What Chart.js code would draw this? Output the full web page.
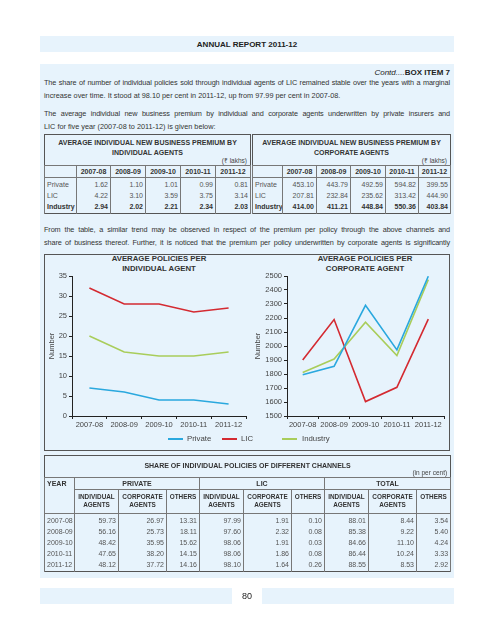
<!DOCTYPE html>
<html><head><meta charset="utf-8">
<script src="https://cdn.jsdelivr.net/npm/chart.js@4.4.1/dist/chart.umd.min.js"></script>
<style>
*{margin:0;padding:0;box-sizing:border-box}
body{width:494px;height:640px;background:#fff;font-family:'Liberation Sans',Arial,sans-serif;color:#333;position:relative;overflow:hidden}
.abs{position:absolute}
.band{background:#e7f3fc}
.ln{position:absolute;left:44px;width:406px;font-size:7.3px;line-height:9px;white-space:nowrap;color:#333}
.j{text-align:justify;text-align-last:justify;letter-spacing:-0.12px}
table{position:absolute;border-collapse:collapse;table-layout:fixed;border:1px solid #555;font-size:7px;color:#555}
td{padding:0 2px;border-left:1px solid #777;border-right:1px solid #777;text-align:right;height:11px;line-height:11px;white-space:nowrap;overflow:hidden}
td.l{text-align:left}
tr.ttl td{border:none;text-align:center;font-weight:bold;color:#333;vertical-align:top;position:relative}
tr.hd td{border:1px solid #777;font-weight:bold;text-align:center;color:#333}
tr.bold td{font-weight:bold;color:#333}
.unit{position:absolute;right:3px;font-weight:normal;font-size:6.5px;color:#444}
#chartbox{position:absolute;left:44px;top:254px;width:406px;height:197px;border:1px solid #555}
.ctitle{position:absolute;font:bold 7.8px 'Liberation Sans',Arial,sans-serif;color:#333;text-align:center;line-height:9.5px;white-space:nowrap}
.leg{position:absolute;top:434px;font-size:7.8px;color:#444;line-height:9px}
</style></head><body>
<div class="abs band" style="left:40px;top:36px;width:414px;height:16px;text-align:center;font-weight:bold;font-size:8px;line-height:17px;color:#222">ANNUAL REPORT 2011-12</div>
<div class="abs band" style="left:40px;top:64px;width:414px;height:514px"></div>

<div class="abs" style="right:44px;top:68px;font-size:8px;line-height:10px;color:#222"><i>Contd....</i><b>BOX ITEM 7</b></div>
<div class="ln j" style="top:78px">The share of number of individual policies sold through individual agents of LIC remained stable over the years with a marginal</div>
<div class="ln" style="top:91px">increase over time. It stood at 98.10 per cent in 2011-12, up from 97.99 per cent in 2007-08.</div>
<div class="ln j" style="top:109px">The average individual new business premium by individual and corporate agents underwritten by private insurers and</div>
<div class="ln" style="top:122px">LIC for five year (2007-08 to 2011-12) is given below:</div>

<table id="tInd" style="left:44px;top:134px;width:206px"></table>
<table id="tCorp" style="left:252px;top:134px;width:198px"></table>

<div class="ln j" style="top:225px">From the table, a similar trend may be observed in respect of the premium per policy through the above channels and</div>
<div class="ln j" style="top:238px">share of business thereof. Further, it is noticed that the premium per policy underwritten by corporate agents is significantly</div>

<div id="chartbox"></div>
<div class="ctitle" style="left:109px;top:254px;width:100px">AVERAGE POLICIES PER<br>INDIVIDUAL AGENT</div>
<div class="ctitle" style="left:315px;top:254px;width:100px">AVERAGE POLICIES PER<br>CORPORATE AGENT</div>
<div class="abs" style="left:44px;top:266px;width:210px;height:170px"><canvas id="c1"></canvas></div>
<div class="abs" style="left:250px;top:266px;width:200px;height:170px"><canvas id="c2"></canvas></div>
<div id="legend"></div>

<table id="tShare" style="left:44px;top:455px;width:406px"></table>

<div class="abs band" style="left:40px;top:588px;width:192px;height:16px"></div>
<div class="abs band" style="left:262px;top:588px;width:192px;height:16px"></div>
<div class="abs" style="left:232px;top:588px;width:30px;text-align:center;font-size:9px;line-height:16px;color:#222">80</div>

<script>
// ---- data ----
const years = ['2007-08','2008-09','2009-10','2010-11','2011-12'];
const seriesNames = ['Private','LIC','Industry'];
// Average policies per individual agent
const indAgentPrivate  = [7, 6, 4, 4, 3];
const indAgentLIC      = [32, 28, 28, 26, 27];
const indAgentIndustry = [20, 16, 15, 15, 16];
// Average policies per corporate agent
const corpAgentPrivate  = [1795, 1855, 2290, 1972, 2498];
const corpAgentLIC      = [1900, 2189, 1603, 1705, 2192];
const corpAgentIndustry = [1811, 1907, 2170, 1931, 2474];
// Premium tables (Rs lakhs)
const premIndPrivate  = ['1.62','1.10','1.01','0.99','0.81'];
const premIndLIC      = ['4.22','3.10','3.59','3.75','3.14'];
const premIndIndustry = ['2.94','2.02','2.21','2.34','2.03'];
const premCorpPrivate  = ['453.10','443.79','492.59','594.82','399.55'];
const premCorpLIC      = ['207.81','232.84','235.62','313.42','444.90'];
const premCorpIndustry = ['414.00','411.21','448.84','550.36','403.84'];
// Share of individual policies (per cent)
const sharePrivate = [['59.73','26.97','13.31'],['56.16','25.73','18.11'],['48.42','35.95','15.62'],['47.65','38.20','14.15'],['48.12','37.72','14.16']];
const shareLIC     = [['97.99','1.91','0.10'],['97.60','2.32','0.08'],['98.06','1.91','0.03'],['98.06','1.86','0.08'],['98.10','1.64','0.26']];
const shareTotal   = [['88.01','8.44','3.54'],['85.38','9.22','5.40'],['84.66','11.10','4.24'],['86.44','10.24','3.33'],['88.55','8.53','2.92']];
const colors = {Private:'#2aa8de', LIC:'#d42a31', Industry:'#a9cd5b'};

// ---- premium tables ----
function premTable(id, title, widths, rows){
  const t = document.getElementById(id);
  let h = '<colgroup>' + widths.map(w=>`<col style="width:${w}px">`).join('') + '</colgroup>';
  h += `<tr class="ttl"><td colspan="6" style="height:31px;padding-top:3px;line-height:9.5px">${title}<div class="unit" style="top:21px">(&#8377; lakhs)</div></td></tr>`;
  h += '<tr class="hd"><td></td>' + years.map(y=>`<td>${y}</td>`).join('') + '</tr>';
  rows.forEach((r,i)=>{
    const pad = i===0 ? 'style="height:12px;vertical-align:bottom"' : '';
    h += `<tr class="${i===2?'bold':''}"><td class="l" ${pad}>${seriesNames[i]}</td>` + r.map(v=>`<td ${pad}>${v}</td>`).join('') + '</tr>';
  });
  h += '<tr><td style="height:2px"></td>' + years.map(()=>'<td style="height:2px"></td>').join('') + '</tr>';
  t.innerHTML = h;
}
premTable('tInd','AVERAGE INDIVIDUAL NEW BUSINESS PREMIUM BY<br>INDIVIDUAL AGENTS',[32,34,35,35,35,35],[premIndPrivate,premIndLIC,premIndIndustry]);
premTable('tCorp','AVERAGE INDIVIDUAL NEW BUSINESS PREMIUM BY<br>CORPORATE AGENTS',[30,34,34,35,33,32],[premCorpPrivate,premCorpLIC,premCorpIndustry]);

// ---- share table ----
(function(){
  const t = document.getElementById('tShare');
  const w = [30,44,48,33,44,48,33,44,48,34];
  let h = '<colgroup>' + w.map(x=>`<col style="width:${x}px">`).join('') + '</colgroup>';
  h += '<tr class="ttl"><td colspan="10" style="height:22px;padding-top:5px;line-height:9px">SHARE OF INDIVIDUAL POLICIES OF DIFFERENT CHANNELS<div class="unit" style="top:12px">(in per cent)</div></td></tr>';
  h += '<tr class="hd"><td rowspan="2" style="text-align:left;vertical-align:top;line-height:11px">YEAR</td><td colspan="3">PRIVATE</td><td colspan="3">LIC</td><td colspan="3">TOTAL</td></tr>';
  const sub = ['INDIVIDUAL<br>AGENTS','CORPORATE<br>AGENTS','OTHERS'];
  h += '<tr class="hd" style="font-size:6.4px">' + [0,1,2].map(()=>sub.map(s=>`<td style="height:24px;line-height:8px;vertical-align:top;padding-top:3px">${s}</td>`).join('')).join('') + '</tr>';
  years.forEach((y,i)=>{
    const pad = i===0 ? 'style="height:12px;vertical-align:bottom"' : '';
    h += `<tr><td class="l" ${pad}>${y}</td>` + [sharePrivate[i],shareLIC[i],shareTotal[i]].map(g=>g.map(v=>`<td ${pad}>${v}</td>`).join('')).join('') + '</tr>';
  });
  h += '<tr>' + w.map(()=>'<td style="height:2px"></td>').join('') + '</tr>';
  t.innerHTML = h;
})();

// ---- legend ----
(function(){
  const pos = [[168,187],[222,241],[282,302]];
  let h='';
  seriesNames.forEach((n,i)=>{
    h += `<i class="abs" style="left:${pos[i][0]}px;top:438px;width:15px;height:1.6px;background:${colors[n]}"></i>`;
    h += `<span class="leg" style="left:${pos[i][1]}px">${n}</span>`;
  });
  document.getElementById('legend').innerHTML = h;
})();

// ---- charts ----
const FONT = "'Liberation Sans', Arial, sans-serif";
function makeChart(id, data, min, max, step, yWidth, rightPad){
  new Chart(document.getElementById(id), {
    type:'line',
    data:{ labels: years, datasets: seriesNames.map((n,i)=>({label:n, data:data[i], borderColor:colors[n], backgroundColor:colors[n], borderWidth:1.6, pointRadius:0, tension:0, fill:false})) },
    options:{
      responsive:true, maintainAspectRatio:false, animation:false,
      layout:{padding:{top:10,right:rightPad,left:0,bottom:0}},
      plugins:{legend:{display:false}, title:{display:false}, tooltip:{enabled:false}},
      scales:{
        x:{ offset:true,
            grid:{offset:true, drawOnChartArea:false, drawTicks:true, tickLength:3, color:'#222', lineWidth:1},
            border:{color:'#222', width:1},
            ticks:{font:{size:7.5, family:FONT}, color:'#444', padding:1, maxRotation:0, autoSkip:false},
            afterFit: s => { s.height = 20; } },
        y:{ min:min, max:max,
            grid:{drawOnChartArea:false, drawTicks:true, tickLength:3, color:'#222', lineWidth:1},
            border:{color:'#222', width:1},
            ticks:{stepSize:step, font:{size:7.5, family:FONT}, color:'#444', padding:2, callback: v => String(v)},
            title:{display:true, text:'Number', font:{size:7.5, family:FONT}, color:'#444', padding:{top:3,bottom:0}},
            afterFit: s => { s.width = yWidth; } }
      }
    }
  });
}
makeChart('c1', [indAgentPrivate, indAgentLIC, indAgentIndustry], 0, 35, 5, 28, 8);
makeChart('c2', [corpAgentPrivate, corpAgentLIC, corpAgentIndustry], 1500, 2500, 100, 37, 6);
</script>
</body></html>
